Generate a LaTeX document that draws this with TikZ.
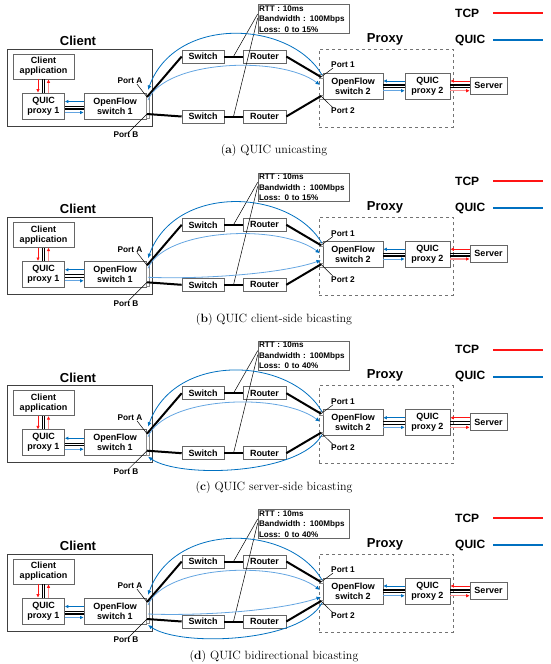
\documentclass[tikz,border=0pt]{standalone}
\usepackage{fontspec}
\setsansfont{Liberation Sans}
\usetikzlibrary{arrows.meta,calc,positioning}
\definecolor{DarkBlue}{RGB}{0,112,192}
\definecolor{LightBlue}{RGB}{100,165,225}
\definecolor{TcpRed}{RGB}{255,20,20}
\definecolor{TcpPink}{RGB}{255,140,140}

\tikzset{
	box/.style={draw=black!60, line width=0.6pt, fill=white, align=center, inner sep=0pt,
		font=\sffamily\bfseries\fontsize{9}{10}\selectfont},
	grp/.style={draw=black!75, line width=0.7pt},
	proxygrp/.style={draw=black!55, dashed, line width=0.6pt},
	biglabel/.style={font=\sffamily\bfseries\fontsize{13}{15}\selectfont, inner sep=0pt},
	legend/.style={font=\sffamily\bfseries\fontsize{12}{14}\selectfont, inner sep=0pt},
	portlabel/.style={font=\sffamily\bfseries\fontsize{8.3}{9}\selectfont, inner sep=0pt},
	netinfo/.style={align=left, text width=89pt, inner xsep=1pt, inner ysep=1pt,
		font=\sffamily\bfseries\fontsize{8.1}{10.5}\selectfont},
	caption/.style={font=\rmfamily\fontsize{12}{14}\selectfont, inner sep=0pt},
	link/.style={black, line width=2pt},
	pair/.style={black, line width=1.1pt},
	leader/.style={black, line width=0.5pt},
	portmark/.style={draw=black!45, fill=white, line width=0.4pt},
	tcparr/.style={TcpRed, line width=0.9pt, -{Latex[length=3.5pt,width=3.5pt]}},
	tcpback/.style={TcpPink, line width=1.1pt, -{Latex[length=3.5pt,width=3.5pt,color=TcpRed]}},
	quicarr/.style={DarkBlue, line width=0.9pt, -{Latex[length=3.5pt,width=3.5pt]}},
	quicback/.style={LightBlue, line width=1pt, -{Latex[length=3.5pt,width=3.5pt,color=DarkBlue]}},
	quicdown/.style={DarkBlue, line width=0.8pt, -{Latex[length=4.5pt,width=4pt]}},
	quicup/.style={LightBlue, line width=0.8pt, -{Latex[length=4.5pt,width=4pt,color=DarkBlue]}},
	tcpkey/.style={TcpRed, line width=1.8pt},
	quickey/.style={DarkBlue, line width=1.8pt},
}

% one panel: #1 loss, #2 letter, #3 caption
\newcommand{\quicpanel}[3]{%
	% client side
	\node[grp, minimum width=145, minimum height=77] (client) at (79.5,87.5) {};
	\node[biglabel] (clientlab) at (78,41) {Client};
	\node[box, minimum width=61, minimum height=25] (capp) at (43.5,66.5) {Client\\application};
	\node[box, minimum width=42, minimum height=26] (qp1) at (43.5,106) {QUIC\\proxy 1};
	\node[box, minimum width=62, minimum height=26] (of1) at (115,106) {OpenFlow\\switch 1};
	% two paths
	\node[box, minimum width=42, minimum height=13] (sw1) at (203,56.5) {Switch};
	\node[box, minimum width=43, minimum height=13] (rt1) at (264.5,56.5) {Router};
	\node[box, minimum width=42, minimum height=13] (sw2) at (203,116.5) {Switch};
	\node[box, minimum width=43, minimum height=13] (rt2) at (264.5,116.5) {Router};
	\node[box, netinfo] (rtt) at (303.5,19) {RTT : 10ms\\Bandwidth : 100Mbps\\Loss: 0 to #1\%};
	% proxy side
	\node[proxygrp, minimum width=134, minimum height=78] (proxy) at (386,88) {};
	\node[biglabel] (proxylab) at (385,39) {Proxy};
	\node[box, minimum width=60, minimum height=26] (of2) at (353,86) {OpenFlow\\switch 2};
	\node[box, minimum width=45, minimum height=26] (qp2) at (427.5,86) {QUIC\\proxy 2};
	\node[box, minimum width=37, minimum height=17] (server) at (488.5,85.5) {Server};
	% legend
	\node[legend, anchor=west] (tcplab) at (455,13) {TCP};
	\node[legend, anchor=west] (quiclab) at (455,40) {QUIC};
	\draw[tcpkey] (493,13) -- (543,13);
	\draw[quickey] (493,40) -- (543,40);
	% ports
	\coordinate (portA) at (147,97);
	\coordinate (portB) at (147,114);
	\coordinate (port1) at (321,77);
	\coordinate (port2) at (321,96);
	\draw[portmark] (146,95) rectangle (149,118);
	\draw[portmark] ($(port1)+(-1.5,-3)$) rectangle ++(3.5,4);
	\draw[portmark] ($(port2)+(-1.5,-1)$) rectangle ++(3.5,4);
	% wired links
	\draw[link] (portA) -- (sw1.west);
	\draw[link] (portB) -- (sw2.west);
	\draw[link] (sw1.east) -- (rt1.west);
	\draw[link] (sw2.east) -- (rt2.west);
	\draw[link] (rt1.east) -- (port1);
	\draw[link] (rt2.east) -- (port2);
	\coordinate (mid1) at ($(sw1.east)!0.5!(rt1.west)$);
	\coordinate (mid2) at ($(sw2.east)!0.5!(rt2.west)$);
	\draw[leader] ($(rtt.west)+(0,-5)$) -- (mid1);
	\draw[leader] ($(rtt.west)+(0,-1)$) -- (mid2);
	% port labels
	\node[portlabel] (labA) at (130,81) {Port A};
	\node[portlabel] (labB) at (126,135) {Port B};
	\node[portlabel] (lab1) at (343,65) {Port 1};
	\node[portlabel] (lab2) at (343,111) {Port 2};
	\draw[leader] ($(labA.south)+(7,0)$) -- (portA);
	\draw[leader] ($(labB.north)+(3,0)$) -- (portB);
	\draw[leader] ($(lab1.south west)+(2,0)$) -- (port1);
	\draw[leader] ($(lab2.north west)+(2,0)$) -- (port2);
	% inside the client
	\draw[tcparr] ($(capp.south)+(-5.5,0)$) -- ($(qp1.north)+(-5.5,0)$);
	\draw[pair] ($(capp.south)+(-1.3,0)$) -- ($(qp1.north)+(-1.3,0)$);
	\draw[pair] ($(capp.south)+(1.3,0)$) -- ($(qp1.north)+(1.3,0)$);
	\draw[tcpback] ($(qp1.north)+(5,0)$) -- ($(capp.south)+(5,0)$);
	\draw[quicarr] ($(of1.west)+(0,-4.5)$) -- ($(qp1.east)+(0,-4.5)$);
	\draw[pair] ($(qp1.east)+(0,0.5)$) -- ($(of1.west)+(0,0.5)$);
	\draw[pair] ($(qp1.east)+(0,3)$) -- ($(of1.west)+(0,3)$);
	\draw[quicback] ($(qp1.east)+(0,6.5)$) -- ($(of1.west)+(0,6.5)$);
	% inside the proxy
	\draw[quicarr] ($(qp2.west)+(0,-5)$) -- ($(of2.east)+(0,-5)$);
	\draw[pair] ($(of2.east)+(0,-1)$) -- ($(qp2.west)+(0,-1)$);
	\draw[pair] ($(of2.east)+(0,1.7)$) -- ($(qp2.west)+(0,1.7)$);
	\draw[quicback] ($(of2.east)+(0,4.7)$) -- ($(qp2.west)+(0,4.7)$);
	\draw[tcparr] ($(server.west)+(0,-4.5)$) -- ($(qp2.east)+(0,-5)$);
	\draw[pair] ($(qp2.east)+(0,-1)$) -- ($(server.west)+(0,-0.5)$);
	\draw[pair] ($(qp2.east)+(0,1.7)$) -- ($(server.west)+(0,2.2)$);
	\draw[tcpback] ($(qp2.east)+(0,4.7)$) -- ($(server.west)+(0,5.2)$);
	% caption
	\node[caption] (cap) at (274,151) {(\textbf{#2}) #3};
}

\begin{document}
\begin{tikzpicture}[x=1pt, y=-1pt]
	\useasboundingbox (0,0) rectangle (550,664);

	% (a) unicasting
	\begin{scope}
		\quicpanel{15}{a}{QUIC unicasting}
		\draw[quicdown] ($(port1)+(1,-2)$) .. controls (290,20) and (175,15) .. ($(portA)+(1,-7)$);
		\draw[quicup] ($(portA)+(1,3)$) .. controls (165,60) and (280,55) .. ($(port1)+(-1,8)$);
	\end{scope}

	% (b) client-side bicasting
	\begin{scope}[shift={(0,168.3)}]
		\quicpanel{15}{b}{QUIC client-side bicasting}
		\draw[quicdown] ($(port1)+(1,-2)$) .. controls (290,20) and (175,15) .. ($(portA)+(1,-7)$);
		\draw[quicup] ($(portA)+(1,3)$) .. controls (165,60) and (280,55) .. ($(port1)+(-1,8)$);
		\draw[quicup] ($(portB)+(1,-5)$) .. controls (200,111) and (280,106) .. ($(port2)+(0,-4)$);
	\end{scope}

	% (c) server-side bicasting
	\begin{scope}[shift={(0,336.7)}]
		\quicpanel{40}{c}{QUIC server-side bicasting}
		\draw[quicdown] ($(port1)+(1,-2)$) .. controls (290,20) and (175,15) .. ($(portA)+(1,-7)$);
		\draw[quicup] ($(portA)+(1,3)$) .. controls (165,60) and (280,55) .. ($(port1)+(-1,8)$);
		\draw[quicdown] ($(port2)+(1,2)$) .. controls (300,138) and (180,142) .. ($(portB)+(1,6)$);
	\end{scope}

	% (d) bidirectional bicasting
	\begin{scope}[shift={(0,505)}]
		\quicpanel{40}{d}{QUIC bidirectional bicasting}
		\draw[quicdown] ($(port1)+(1,-2)$) .. controls (290,20) and (175,15) .. ($(portA)+(1,-7)$);
		\draw[quicup] ($(portA)+(1,3)$) .. controls (165,60) and (280,55) .. ($(port1)+(-1,8)$);
		\draw[quicup] ($(portB)+(1,-5)$) .. controls (200,111) and (280,106) .. ($(port2)+(0,-4)$);
		\draw[quicdown] ($(port2)+(1,2)$) .. controls (300,138) and (180,142) .. ($(portB)+(1,6)$);
	\end{scope}
\end{tikzpicture}
\end{document}
